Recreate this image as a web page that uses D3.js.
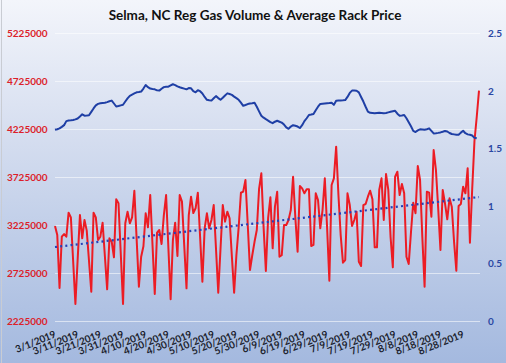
<!DOCTYPE html>
<html><head><meta charset="utf-8">
<script src="https://cdn.jsdelivr.net/npm/d3@7"></script>
<style>html,body{margin:0;padding:0;overflow:hidden;background:#fff}</style>
</head><body><svg id="c" width="506" height="363"></svg>
<script>
const startDate = "3/1/2019";
const xTickLabels = ["3/1/2019","3/11/2019","3/21/2019","3/31/2019","4/10/2019","4/20/2019","4/30/2019","5/10/2019","5/20/2019","5/30/2019","6/9/2019","6/19/2019","6/29/2019","7/9/2019","7/19/2019","7/29/2019","8/8/2019","8/18/2019","8/28/2019"];
const leftTicks = [2225000,2725000,3225000,3725000,4225000,4725000,5225000];
const rightTicks = [0,0.5,1,1.5,2,2.5];
// daily regular gas volume (gallons), from 3/1/2019
const volume = [3214000,3121000,2569000,3103000,3131000,3103000,3353000,3305000,2850000,2402000,
2870000,3329000,3086000,3277000,3166000,2850000,2530000,3353000,3305000,3069000,
3103000,3249000,2900000,2555000,3086000,3051000,2889000,3492000,3451000,2930000,
2402000,3243000,3364000,3243000,3305000,3582000,3080000,2582000,2895000,3004000,
3347000,3201000,3537000,3020000,2506000,3145000,3173000,3027000,3325000,3537000,
2990000,2451000,3069000,3249000,2902000,3537000,3468000,3010000,2565000,3329000,
3520000,3350000,3399000,3561000,3100000,2634000,3190000,3347000,3190000,3277000,
3433000,2980000,2520000,2980000,3433000,3260000,3364000,3295000,2900000,2520000,
2910000,3201000,3561000,3572000,3694000,3230000,2756000,2910000,3050000,3173000,
3600000,3763000,3200000,2746000,3300000,3513000,2982000,3416000,3572000,2895000,
2910000,3225000,3225000,3277000,3381000,3728000,3300000,2947000,3631000,3607000,
3555000,3597000,3597000,3006000,3017000,3555000,3485000,3190000,3381000,3711000,
3200000,2645000,3642000,3711000,4041000,3540000,3120000,2832000,2860000,3555000,
3433000,3215000,3277000,3364000,2843000,2798000,3433000,3444000,3520000,3582000,
3492000,2992000,2992000,3590000,3711000,3277000,3756000,3590000,3100000,2784000,
3728000,3780000,3537000,3652000,3555000,2895000,2819000,3150000,3458000,3347000,
3840000,3694000,3100000,2582000,3572000,3562000,3312000,4006000,3800000,3400000,
2965000,3590000,3451000,3284000,3503000,3416000,3050000,2749000,3423000,3444000,
3624000,3555000,3815000,3040000,3600000,4100000,4350000,4624000];
// daily average rack price ($/gal), from 3/1/2019
const price = [1.660,1.665,1.672,1.685,1.700,1.735,1.740,1.742,1.745,1.750,
1.758,1.775,1.794,1.782,1.783,1.786,1.815,1.845,1.872,1.885,
1.890,1.892,1.894,1.900,1.907,1.913,1.888,1.862,1.866,1.872,
1.877,1.905,1.932,1.955,1.965,1.975,1.985,1.988,1.992,2.018,
2.048,2.030,2.018,2.014,2.011,2.002,2.000,2.016,2.030,2.034,
2.034,2.045,2.055,2.048,2.037,2.029,2.023,2.017,2.011,2.022,
2.020,1.995,1.985,2.003,1.995,1.975,1.945,1.920,1.916,1.913,
1.933,1.952,1.935,1.920,1.938,1.958,1.976,1.970,1.963,1.948,
1.935,1.920,1.895,1.868,1.875,1.883,1.888,1.891,1.895,1.860,
1.820,1.782,1.765,1.752,1.740,1.727,1.717,1.730,1.738,1.730,
1.722,1.705,1.680,1.668,1.688,1.700,1.695,1.688,1.675,1.700,
1.735,1.760,1.788,1.792,1.797,1.830,1.860,1.884,1.886,1.888,
1.890,1.892,1.895,1.876,1.912,1.914,1.915,1.916,1.918,1.945,
1.980,2.000,2.000,1.999,1.985,1.945,1.905,1.860,1.818,1.807,
1.805,1.803,1.806,1.808,1.806,1.804,1.806,1.811,1.816,1.821,
1.825,1.800,1.782,1.784,1.788,1.760,1.725,1.690,1.650,1.640,
1.655,1.664,1.662,1.660,1.665,1.672,1.650,1.628,1.630,1.633,
1.637,1.643,1.650,1.645,1.632,1.623,1.620,1.617,1.616,1.635,
1.651,1.630,1.620,1.617,1.610,1.590,1.586];

const svg = d3.select("#c");
const W = 506, H = 363;
const parse = d3.timeParse("%m/%d/%Y");
const d0 = parse(startDate);
const dayDate = i => d3.timeDay.offset(d0, i);

const defs = svg.append("defs");
const g = defs.append("linearGradient").attr("id","bg").attr("x1",0).attr("y1",0).attr("x2",0).attr("y2",1);
g.append("stop").attr("offset","0%").attr("stop-color","#f3f5fb");
g.append("stop").attr("offset","35%").attr("stop-color","#d7dff0");
g.append("stop").attr("offset","100%").attr("stop-color","#a4b9df");
svg.append("rect").attr("width",W).attr("height",H).attr("fill","url(#bg)");
svg.append("line").attr("x1",1.5).attr("x2",1.5).attr("y1",0).attr("y2",H).attr("stroke","#c9ccd3").attr("stroke-width",1);

const x = d3.scaleTime().domain([d0, dayDate(volume.length-1)]).range([55, 479]);
const yL = d3.scaleLinear().domain([2225000, 5225000]).range([321, 33]);
const yR = d3.scaleLinear().domain([0, 2.5]).range([321, 33]);

// gridlines
svg.append("g").selectAll("line").data(leftTicks).join("line")
  .attr("x1",55).attr("x2",480).attr("y1",d=>yL(d)+0.5).attr("y2",d=>yL(d)+0.5)
  .attr("stroke","#ffffff").attr("stroke-opacity",0.55).attr("stroke-width",1);

// left axis
const axL = svg.append("g").attr("transform","translate(7,0)")
  .call(d3.axisRight(yL).tickValues(leftTicks).tickFormat(d3.format("d")).tickSize(0));
axL.select(".domain").remove();
axL.selectAll("text").attr("x",0).attr("dy","0.35em")
  .attr("fill","#dc1f2b").style("font-family","Lato, 'Open Sans', sans-serif").style("font-weight","bold").style("font-size","10px");

// right axis
const axR = svg.append("g").attr("transform","translate(488,0)")
  .call(d3.axisRight(yR).tickValues(rightTicks).tickFormat(d3.format("")).tickSize(0));
axR.select(".domain").remove();
axR.selectAll("text").attr("x",0).attr("dy","0.35em")
  .attr("fill","#2a47a3").style("font-family","Lato, 'Open Sans', sans-serif").style("font-weight","bold").style("font-size","10px");

// x axis
const axX = svg.append("g").attr("transform","translate(0,337)")
  .call(d3.axisBottom(x).tickValues(xTickLabels.map(parse)).tickFormat(d3.timeFormat("%-m/%-d/%Y")).tickSize(0));
axX.select(".domain").remove();
axX.selectAll("text").attr("y",0).attr("dy",0)
  .attr("text-anchor","end")
  .attr("transform","translate(1,0) rotate(-22)")
  .attr("fill","#1c1f2e").style("font-family","Lato, 'Open Sans', sans-serif").style("font-weight","bold").style("font-size","10px")
  .style("letter-spacing","-0.2px");

// red volume line
svg.append("path").datum(volume)
  .attr("fill","none").attr("stroke","#ec1c24").attr("stroke-width",2).attr("stroke-linejoin","round")
  .attr("d", d3.line().x((d,i)=>x(dayDate(i))).y(d=>yL(d)));

// blue price line
svg.append("path").datum(price)
  .attr("fill","none").attr("stroke","#1f3fa5").attr("stroke-width",2).attr("stroke-linejoin","round")
  .attr("d", d3.line().x((d,i)=>x(dayDate(i))).y(d=>yR(d)));

// linear trend of volume
const n = volume.length;
const mx = d3.mean(volume,(d,i)=>i), my = d3.mean(volume);
const slope = d3.sum(volume,(d,i)=>(i-mx)*(d-my)) / d3.sum(volume,(d,i)=>(i-mx)*(i-mx));
const icpt = my - slope*mx;
const trend = [0, n-1].map(i => ({i, v: icpt + slope*i}));
svg.append("path").datum(trend)
  .attr("fill","none").attr("stroke","#2540b8").attr("stroke-width",2.2)
  .attr("stroke-dasharray","2,3.2").attr("stroke-linecap","butt")
  .attr("d", d3.line().x(d=>x(dayDate(d.i))).y(d=>yL(d.v)));

// title
svg.append("text").attr("x",255).attr("y",20).attr("text-anchor","middle")
  .attr("fill","#111").style("font-family","Lato, 'Open Sans', sans-serif").style("font-weight","bold").style("font-size","13.5px")
  .text("Selma, NC Reg Gas Volume & Average Rack Price");
</script></body></html>
